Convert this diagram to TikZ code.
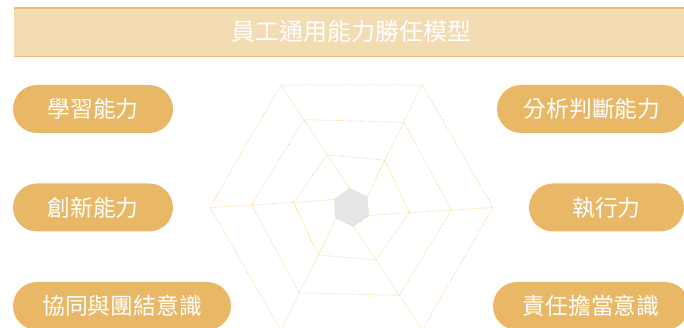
\documentclass[tikz,border=0pt]{standalone}
\usepackage{fontspec}
\newfontfamily\cjk{Noto Sans CJK TC}
\usetikzlibrary{calc}
\definecolor{pillfill}{HTML}{E8B866}
\definecolor{barfill}{HTML}{F3DBB2}
\definecolor{barline}{HTML}{EBBC70}
\definecolor{webline}{HTML}{F0CF96}
\definecolor{hexgray}{HTML}{E6E6E6}
\tikzset{
  pill/.style={rectangle, rounded corners=24pt, fill=pillfill, text=white,
    minimum height=48pt, inner sep=0pt, font=\cjk\fontsize{22.8}{24}\selectfont},
  titletext/.style={text=white, inner sep=0pt, font=\cjk\fontsize{24}{26}\selectfont},
  web/.style={draw=webline, line width=0.8pt, dash pattern=on 0.8pt off 1.4pt},
}
\begin{document}
\begin{tikzpicture}[x=1pt,y=1pt]
\useasboundingbox (0,0) rectangle (684,328);
\clip (0,0) rectangle (684,328);
% title bar
\fill[barfill] (14,271) rectangle (690,321);
\draw[barline, line width=2.3pt] (14,320) -- (690,320);
\draw[barline, line width=1.5pt] (14,271.3) -- (690,271.3);
\node[titletext] (title) at (351.5,296.5) {員工通用能力勝任模型};
% web
\coordinate (C) at (351.5,120.5);
\foreach \k in {0,...,5}{
  \path (C) ++(60*\k:141.5pt) coordinate (o\k);
  \path (C) ++(60*\k-1.5:100pt) coordinate (s\k);
  \path (C) ++(60*\k-5:58pt) coordinate (t\k);
  \path (C) ++(60*\k-25:19pt) coordinate (g\k);
}
\fill[hexgray] (g0)--(g1)--(g2)--(g3)--(g4)--(g5)--cycle;
\draw[web] (g0)--(g1)--(g2)--(g3)--(g4)--(g5)--cycle;
\draw[web] (t0)--(t1)--(t2)--(t3)--(t4)--(t5)--cycle;
\draw[web] (s0)--(s1)--(s2)--(s3)--(s4)--(s5)--cycle;
\draw[web] (o0)--(o1)--(o2)--(o3)--(o4)--(o5)--cycle;
\foreach \k in {0,...,5}{
  \draw[web] (g\k)--(t\k)--(s\k)--(o\k);
}
% pills
\node[pill, minimum width=160pt] (learn) at (93,219) {學習能力};
\node[pill, minimum width=160pt] (innov) at (93,120.5) {創新能力};
\node[pill, minimum width=218pt] (team) at (122,22) {協同與團結意識};
\node[pill, minimum width=190pt] (analy) at (592,219) {分析判斷能力};
\node[pill, minimum width=155pt] (exec) at (606.5,120.5) {執行力};
\node[pill, minimum width=196pt] (resp) at (591,22) {責任擔當意識};
\end{tikzpicture}
\end{document}
